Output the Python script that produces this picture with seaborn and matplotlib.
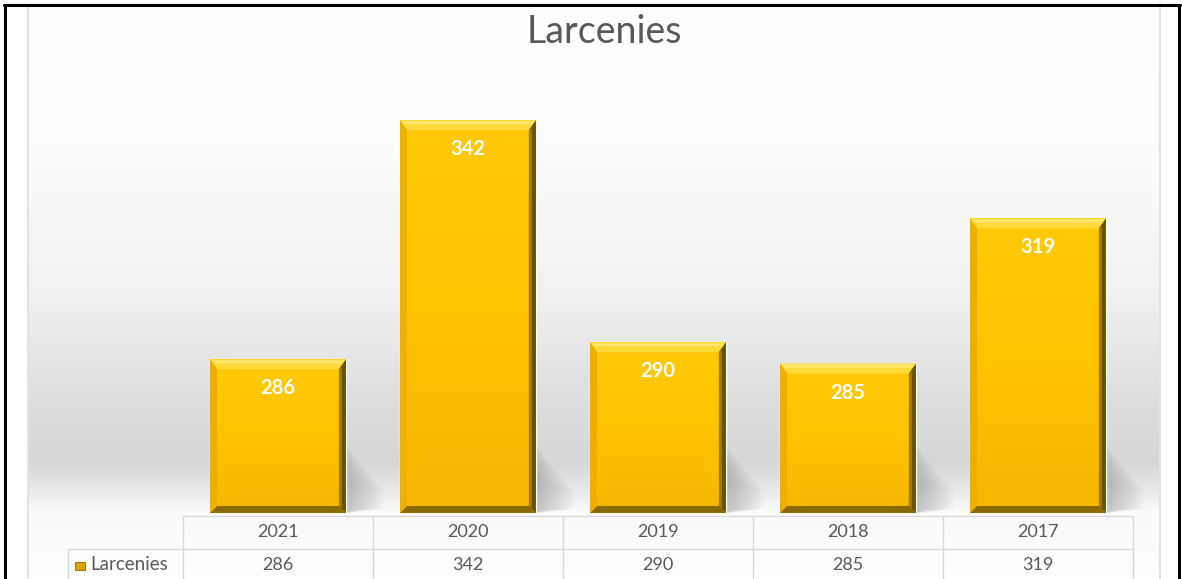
import numpy as np
import pandas as pd
import matplotlib
matplotlib.use("Agg")
import matplotlib.pyplot as plt
import seaborn as sns
from matplotlib.patches import Polygon, Rectangle
from matplotlib.lines import Line2D
from matplotlib.transforms import IdentityTransform, blended_transform_factory
from matplotlib.colors import LinearSegmentedColormap

# ---------------- data ----------------
years = ["2021", "2020", "2019", "2018", "2017"]
larcenies = [286, 342, 290, 285, 319]
series_name = "Larcenies"
title = "Larcenies"

sns.set_theme(style="white")
plt.rcParams["font.family"] = ["Lato", "DejaVu Sans"]

W, H = 1182, 579
DPI = 100
fig = plt.figure(figsize=(W / DPI, H / DPI), dpi=DPI)
fig.patch.set_facecolor("white")

def fy(y):  # pixel from top -> figure fraction
    return 1 - y / H

def fx(x):
    return x / W

# ---------------- background gradient ----------------
bg = fig.add_axes([fx(28), 0, fx(1160) - fx(28), fy(6)], zorder=0)
bg.set_axis_off()
stops = [(0.0, "#ffffff"), (0.25, "#fdfdfd"), (0.50, "#f1f1f1"),
         (0.70, "#dddddd"), (0.80, "#d7d7d7"), (0.86, "#eeeeee"),
         (0.88, "#fafafa"), (1.0, "#ffffff")]
cmap_bg = LinearSegmentedColormap.from_list("bg", stops)
grad = np.linspace(0, 1, 512).reshape(-1, 1)
bg.imshow(grad, aspect="auto", cmap=cmap_bg, extent=[0, 1, 1, 0])
bg.set_xlim(0, 1)
bg.set_ylim(1, 0)

# ---------------- main axes ----------------
ax = fig.add_axes([fx(183), 1 - 513 / H, fx(1133) - fx(183), (513 - 86) / H], zorder=2)
ax.patch.set_alpha(0)
df = pd.DataFrame({"year": years, "value": larcenies})
sns.barplot(data=df, x="year", y="value", color="#FFC000", width=0.715,
            saturation=1, ax=ax, zorder=3)
ax.set_ylim(250, 350)
ax.set_xlim(-0.5, len(years) - 0.5)
ax.set_axis_off()

fig.canvas.draw()
ident = IdentityTransform()

cmap_bar = LinearSegmentedColormap.from_list("bar", ["#FFCA08", "#FFC300", "#F5B700"])
cmap_top = LinearSegmentedColormap.from_list("top", ["#FFE14A", "#FFCF10"])
bt = 10   # top bevel
bs = 7    # side/bottom bevel
for patch, val in zip(ax.patches, larcenies):
    x0d, y0d = patch.get_x(), 250
    x1d, y1d = patch.get_x() + patch.get_width(), patch.get_height()
    (x0, y0) = ax.transData.transform((x0d, y0d))
    (x1, y1) = ax.transData.transform((x1d, y1d))
    # shadow to the right
    for k in range(10):
        w = 6 + 3.5 * k
        hgt = 60 - 4 * k
        sh = Polygon([(x1, y0), (x1 + w, y0 + 4), (x1 + w, y0 + hgt), (x1, y0 + hgt + 10)],
                     closed=True, transform=ident, facecolor="#606060",
                     edgecolor="none", alpha=0.035, zorder=1.5)
        fig.add_artist(sh)
    # bar face gradient
    im = ax.imshow(np.linspace(0, 1, 256).reshape(-1, 1), cmap=cmap_bar, aspect="auto",
                   extent=[x0d, x1d, y0d, y1d], origin="upper", zorder=3.5)
    im.set_clip_path(patch)
    # bevels
    top = Polygon([(x0, y1), (x1, y1), (x1 - bs, y1 - bt), (x0 + bs, y1 - bt)],
                  closed=True, transform=ident, facecolor="#FFDA3A", edgecolor="none", zorder=5)
    top2 = Polygon([(x0 + 1, y1 - 1), (x1 - 1, y1 - 1), (x1 - 4, y1 - 4), (x0 + 4, y1 - 4)],
                   closed=True, transform=ident, facecolor="#FFE772", edgecolor="none", zorder=5.05)
    left = Polygon([(x0, y0), (x0, y1), (x0 + bs, y1 - bt), (x0 + bs, y0 + bs)],
                   closed=True, transform=ident, facecolor="#EDAF00", edgecolor="none", zorder=5)
    right = Polygon([(x1, y1), (x1, y0), (x1 - bs, y0 + bs), (x1 - bs, y1 - bt)],
                    closed=True, transform=ident, facecolor="#6A5300", edgecolor="none", zorder=5)
    right2 = Polygon([(x1 - bs, y1 - bt), (x1 - bs, y0 + bs), (x1 - bs + 3, y0 + bs - 2),
                      (x1 - bs + 3, y1 - bt + 2)],
                     closed=True, transform=ident, facecolor="#A07C00", edgecolor="none", zorder=5.1)
    bottom = Polygon([(x0, y0), (x1, y0), (x1 - bs, y0 + bs), (x0 + bs, y0 + bs)],
                     closed=True, transform=ident, facecolor="#8A6A00", edgecolor="none", zorder=5.2)
    for p in (top, top2, left, right, right2, bottom):
        fig.add_artist(p)
    # data label
    ax.annotate(f"{val}", xy=(patch.get_x() + patch.get_width() / 2, patch.get_height()),
                xytext=(0, -29), textcoords="offset pixels", ha="center", va="center",
                color="white", fontsize=14.5, fontweight="bold", zorder=6)

# ---------------- data table ----------------
tb = blended_transform_factory(ax.transData, fig.transFigure)
lc = "#d9d9d9"
tc = "#595959"
n = len(years)
fig.add_artist(Line2D([-0.5, n - 0.5], [fy(516), fy(516)], transform=tb, color=lc, lw=1.0, zorder=3))
fig.add_artist(Line2D([fx(68), fx(1133)], [fy(549), fy(549)], transform=fig.transFigure,
                      color=lc, lw=1.0, zorder=3))
for i in range(n + 1):
    fig.add_artist(Line2D([i - 0.5, i - 0.5], [fy(516), 0], transform=tb, color=lc, lw=1.0, zorder=3))
fig.add_artist(Line2D([fx(68), fx(68)], [fy(549), 0], transform=fig.transFigure,
                      color=lc, lw=1.0, zorder=3))
for i, (yr, v) in enumerate(zip(years, larcenies)):
    fig.text(i, fy(532), yr, transform=tb, ha="center", va="center", color=tc, fontsize=13, zorder=4)
    fig.text(i, fy(565), f"{v}", transform=tb, ha="center", va="center", color=tc, fontsize=13, zorder=4)
fig.add_artist(Rectangle((fx(75), fy(570)), fx(10), 8 / H, transform=fig.transFigure,
                         facecolor="#D9A300", edgecolor="#8C6C00", lw=0.6, zorder=4))
fig.text(fx(90), fy(565), series_name, ha="left", va="center", color=tc, fontsize=13.5, zorder=4)

# ---------------- title ----------------
fig.text(fx(604), fy(32), title, ha="center", va="center", color="#595959", fontsize=27, zorder=4)

# ---------------- frame lines ----------------
for xs in (28, 1160):
    fig.add_artist(Line2D([fx(xs), fx(xs)], [fy(6), 0], transform=fig.transFigure,
                          color="#e3e3e3", lw=1.5, zorder=4))
fig.add_artist(Line2D([fx(5), fx(5)], [fy(5), 0], transform=fig.transFigure, color="black", lw=2.2, zorder=6))
fig.add_artist(Line2D([fx(1179), fx(1179)], [fy(5), 0], transform=fig.transFigure, color="black", lw=2.2, zorder=6))
fig.add_artist(Line2D([fx(4), fx(1180)], [fy(5), fy(5)], transform=fig.transFigure, color="black", lw=2.2, zorder=6))

fig.savefig("out.png", dpi=DPI)
